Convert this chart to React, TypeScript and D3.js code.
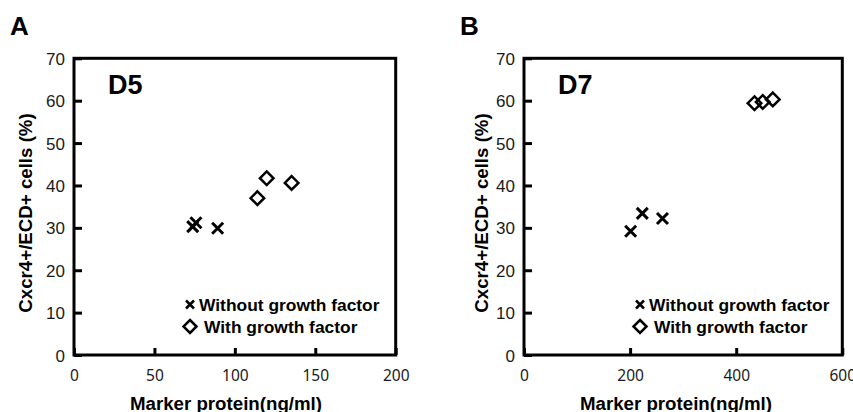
import React, { PureComponent } from 'react'
import * as d3 from 'd3'

// D5 (panel A) values
const d5WithoutProtein = [73.8, 75.8, 89.3]
const d5WithoutCells = [30.3, 31.2, 29.9]
const d5WithProtein = [114, 119.8, 135.3]
const d5WithCells = [37.0, 41.7, 40.6]
const d5ProteinTicks = [0, 50, 100, 150, 200]

// D7 (panel B) values
const d7WithoutProtein = [201, 223, 261]
const d7WithoutCells = [29.2, 33.4, 32.2]
const d7WithProtein = [434.5, 450, 469]
const d7WithCells = [59.4, 59.7, 60.3]
const d7ProteinTicks = [0, 200, 400, 600]

const cellTicks = [0, 10, 20, 30, 40, 50, 60, 70]
const legendLabels = ['Without growth factor', 'With growth factor']
const xTitle = 'Marker protein(ng/ml)'
const yTitle = 'Cxcr4+/ECD+ cells (%)'

const boldFont = '"Liberation Sans", Arial, sans-serif'
const xTickFont = '"Noto Sans", "DejaVu Sans", sans-serif'
const yTickFont = '"Liberation Sans", Arial, sans-serif'

type PanelDef = {
  letter: string
  day: string
  offset: number
  width: number
  yTitleX: number
  xMax: number
  xTicks: number[]
  without: [number[], number[]]
  withGf: [number[], number[]]
}

const panels: PanelDef[] = [
  { letter: 'A', day: 'D5', offset: 0, width: 321.7, yTitleX: 31.7, xMax: 200, xTicks: d5ProteinTicks,
    without: [d5WithoutProtein, d5WithoutCells], withGf: [d5WithProtein, d5WithCells] },
  { letter: 'B', day: 'D7', offset: 450, width: 318.3, yTitleX: 38.2, xMax: 600, xTicks: d7ProteinTicks,
    without: [d7WithoutProtein, d7WithoutCells], withGf: [d7WithProtein, d7WithCells] },
]

const crossPath = (s: number) => `M${-s},${-s}L${s},${s}M${-s},${s}L${s},${-s}`
const diamondPath = (s: number) => `M0,${-s}L${s},0L0,${s}L${-s},0Z`

export default class App extends PureComponent {

  svgRef = React.createRef<SVGSVGElement>()

  // plot frame, shared by both panels
  margin = { top: 58.3, left: 74 }
  height = 296.7

  componentDidMount() {
    this.initSVG()
  }

  initSVG() {
    const svg = d3.select(this.svgRef.current)
    svg.selectAll('*').remove()

    panels.forEach(p => {
      const g = svg.append('g').attr('transform', `translate(${p.offset},0)`)

      const x = d3.scaleLinear().domain([0, p.xMax]).range([this.margin.left, this.margin.left + p.width])
      const y = d3.scaleLinear().domain([0, 70]).range([this.margin.top + this.height, this.margin.top])

      // Panel letter
      g.append('text')
        .attr('x', 10).attr('y', 35)
        .attr('font-family', boldFont).attr('font-weight', 'bold').attr('font-size', 26)
        .text(p.letter)

      // X axis
      const xAxis = g.append('g')
        .attr('transform', `translate(0,${this.margin.top + this.height})`)
        .call(d3.axisBottom(x).tickValues(p.xTicks).tickSizeInner(-7).tickSizeOuter(0).tickPadding(15))
      xAxis.select('.domain').remove()
      xAxis.selectAll('.tick text')
        .attr('font-family', xTickFont)
        .attr('font-size', 15.5)

      // Y axis
      const yAxis = g.append('g')
        .attr('transform', `translate(${this.margin.left},0)`)
        .call(d3.axisLeft(y).tickValues(cellTicks).tickSizeInner(-8).tickSizeOuter(0).tickPadding(9))
      yAxis.select('.domain').remove()
      yAxis.selectAll('.tick text')
        .attr('dy', '0.36em')
        .attr('font-family', yTickFont)
        .attr('font-size', 17)

      g.selectAll('.tick line').attr('stroke', '#000').attr('stroke-width', 3)
      g.selectAll('.tick text').attr('fill', '#1a1a1a')

      // Frame
      g.append('rect')
        .attr('x', this.margin.left).attr('y', this.margin.top)
        .attr('width', p.width).attr('height', this.height)
        .attr('fill', 'none').attr('stroke', '#000').attr('stroke-width', 3)

      // Day label
      g.append('text')
        .attr('x', 108).attr('y', 93.5)
        .attr('font-family', boldFont).attr('font-weight', 'bold').attr('font-size', 27)
        .text(p.day)

      // Axis titles
      g.append('text')
        .attr('x', 226).attr('y', 410)
        .attr('text-anchor', 'middle')
        .attr('font-family', boldFont).attr('font-weight', 'bold').attr('font-size', 18.7)
        .text(xTitle)

      g.append('text')
        .attr('transform', `translate(${p.yTitleX},213) rotate(-90)`)
        .attr('text-anchor', 'middle')
        .attr('font-family', boldFont).attr('font-weight', 'bold').attr('font-size', 18.7)
        .text(yTitle)

      // Points
      const withoutData = p.without[0].map((v, i) => [v, p.without[1][i]])
      const withData = p.withGf[0].map((v, i) => [v, p.withGf[1][i]])

      g.selectAll('.cross')
        .data(withoutData)
        .enter().append('path')
        .attr('class', 'cross')
        .attr('d', crossPath(5.5))
        .attr('transform', d => `translate(${x(d[0])},${y(d[1])})`)
        .attr('fill', 'none').attr('stroke', '#000').attr('stroke-width', 3)

      g.selectAll('.diamond')
        .data(withData)
        .enter().append('path')
        .attr('class', 'diamond')
        .attr('d', diamondPath(6.8))
        .attr('transform', d => `translate(${x(d[0])},${y(d[1])})`)
        .attr('fill', 'none').attr('stroke', '#000').attr('stroke-width', 2.5)

      // Legend
      g.append('path')
        .attr('d', crossPath(4))
        .attr('transform', 'translate(190,304.5)')
        .attr('fill', 'none').attr('stroke', '#000').attr('stroke-width', 2.5)
      g.append('text')
        .attr('x', 199).attr('y', 311)
        .attr('font-family', boldFont).attr('font-weight', 'bold').attr('font-size', 17.4)
        .text(legendLabels[0])

      g.append('path')
        .attr('d', diamondPath(6.5))
        .attr('transform', 'translate(190,326.5)')
        .attr('fill', 'none').attr('stroke', '#000').attr('stroke-width', 2.5)
      g.append('text')
        .attr('x', 204).attr('y', 333)
        .attr('font-family', boldFont).attr('font-weight', 'bold').attr('font-size', 17.4)
        .text(legendLabels[1])
    })
  }

  render() {
    return (
      <svg ref={this.svgRef} width={853} height={412}
        style={{ position: 'absolute', left: 0, top: 0, background: '#fff' }} />
    )
  }
}
